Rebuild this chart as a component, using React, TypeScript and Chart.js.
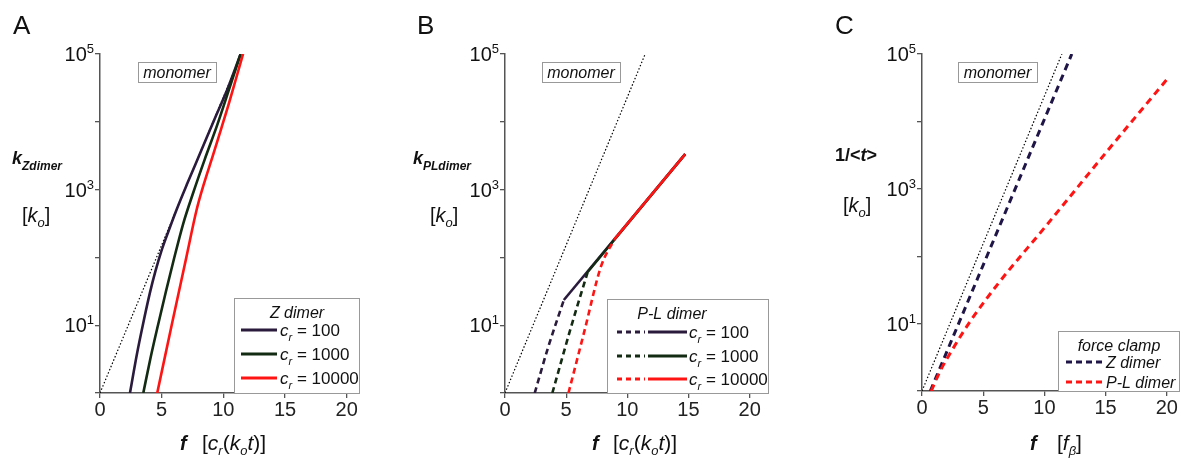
import React, { useEffect, useRef } from 'react';
import { Chart, registerables } from 'chart.js';
Chart.register(...registerables);

const FF = '"Liberation Sans", Arial, Helvetica, sans-serif';

// ---------- Data ----------
// x tick labels (all panels)
const xTicks = [0, 5, 10, 15, 20];
// y decades (log scale) and labelled decades
const yDecades = [1, 10, 100, 1000, 10000, 100000];
const yLabelled = [10, 1000, 100000];

// Panel A: Z dimer
const monoAF = [0, 11.46];
const monoAK = [1, 100000];
const zA100F = [2.43, 3.0, 3.47, 4.05, 4.5, 4.95, 5.5, 6.2, 7.1, 8.15, 9.24, 10.37, 11.4];
const zA100K = [1, 3.8, 10, 30.2, 63.1, 120, 229, 501, 1259, 3548, 10471, 31623, 100000];
const zA1000F = [3.51, 4.1, 4.7, 5.35, 6.0, 6.75, 7.55, 8.5, 9.5, 10.45, 11.4];
const zA1000K = [1, 3.31, 10, 31.6, 95.5, 316, 891, 2818, 8913, 29512, 100000];
const zA10000F = [4.64, 5.81, 7.0, 7.83, 8.45, 9.15, 9.83, 10.5, 11.05, 11.6];
const zA10000K = [1, 10, 100, 500, 1259, 3162, 7943, 19953, 44668, 100000];

// Panel B: P-L dimer
const monoBF = [0, 11.46];
const monoBK = [1, 100000];
const plDash100F = [2.43, 3.54, 4.81];
const plDash100K = [1, 4.8, 23.5];
const plSolid100F = [4.81, 14.73];
const plSolid100K = [23.5, 3340];
const plDash1000F = [3.87, 5.4, 6.76];
const plDash1000K = [1, 9.4, 61];
const plSolid1000F = [6.76, 14.73];
const plSolid1000K = [61, 3340];
const plDash10000F = [5.19, 6.5, 7.84, 8.92];
const plDash10000K = [1, 8.3, 73, 183];
const plSolid10000F = [8.92, 14.73];
const plSolid10000K = [183, 3340];

// Panel C: force clamp
const monoCF = [0, 11.43];
const monoCK = [1, 100000];
const fcZF = [0.68, 12.24];
const fcZK = [1, 100000];
const fcPLF = [0.75, 1.5, 2.5, 4.0, 6.26, 10, 15, 20];
const fcPLK = [1, 2.0, 4.17, 11.2, 40, 263, 3390, 41700];

// ---------- Styles ----------
const PURPLE = '#2a1b3d';
const GREEN = '#132a13';
const RED = '#ff1414';
const NAVY = '#1f1547';
const AXIS = '#555';

const pts = (fs: number[], ks: number[]) => fs.map((f, i) => ({ x: f, y: ks[i] }));

const R = (s: number) => `${s}px ${FF}`;
const I = (s: number) => `italic ${s}px ${FF}`;
const B = (s: number) => `bold ${s}px ${FF}`;
const BI = (s: number) => `italic bold ${s}px ${FF}`;

type Seg = [string, string, number?];
function rich(ctx: CanvasRenderingContext2D, x: number, y: number, segs: Seg[], align: 'left' | 'center' | 'right' = 'left', color = '#111') {
  ctx.save();
  ctx.textBaseline = 'alphabetic';
  ctx.textAlign = 'left';
  ctx.fillStyle = color;
  let w = 0;
  segs.forEach(([t, f]) => { ctx.font = f; w += ctx.measureText(t).width; });
  let cx = align === 'center' ? x - w / 2 : align === 'right' ? x - w : x;
  segs.forEach(([t, f, dy]) => {
    ctx.font = f;
    ctx.fillText(t, cx, y + (dy || 0));
    cx += ctx.measureText(t).width;
  });
  ctx.restore();
}

function box(ctx: CanvasRenderingContext2D, x: number, y: number, w: number, h: number) {
  ctx.save();
  ctx.fillStyle = '#fff';
  ctx.fillRect(x, y, w, h);
  ctx.strokeStyle = '#999';
  ctx.lineWidth = 1;
  ctx.strokeRect(Math.round(x) + 0.5, Math.round(y) + 0.5, w, h);
  ctx.restore();
}

function seg(ctx: CanvasRenderingContext2D, x1: number, x2: number, y: number, color: string, dash: number[], width = 3) {
  ctx.save();
  ctx.strokeStyle = color;
  ctx.lineWidth = width;
  ctx.setLineDash(dash);
  ctx.beginPath();
  ctx.moveTo(x1, y);
  ctx.lineTo(x2, y);
  ctx.stroke();
  ctx.restore();
}

function line(data: { x: number; y: number }[], color: string, width: number, dash: number[] = [], smooth = false) {
  return {
    data,
    borderColor: color,
    backgroundColor: color,
    borderWidth: width,
    borderDash: dash,
    pointRadius: 0,
    fill: false,
    cubicInterpolationMode: smooth ? 'monotone' : 'default',
    tension: smooth ? 0.4 : 0,
  };
}

function yTickLabels(ctx: CanvasRenderingContext2D, chart: any) {
  const ys = chart.scales.y;
  const left = chart.chartArea.left;
  yLabelled.forEach((v) => {
    const y = ys.getPixelForValue(v);
    rich(ctx, left - 6, y + 7, [['10', R(20)], [String(Math.round(Math.log10(v))), R(13), -8]], 'right');
  });
}

interface PanelCfg {
  ox: number;
  width: number;
  left: number;
  right: number;
  top: number;
  bottom: number;
  xMax: number;
  datasets: any[];
  draw: (ctx: CanvasRenderingContext2D, chart: any, ox: number) => void;
}

function makeChart(canvas: HTMLCanvasElement, p: PanelCfg) {
  const gridOpts = { display: true, drawOnChartArea: false, drawTicks: true, tickLength: 5, color: AXIS, lineWidth: 1.3 };
  const borderOpts = { display: true, color: AXIS, width: 1.5 };
  return new Chart(canvas, {
    type: 'line',
    data: { datasets: p.datasets },
    options: {
      animation: false,
      responsive: false,
      devicePixelRatio: 1,
      layout: { padding: { left: 0, top: p.top, right: p.width - p.right, bottom: 0 } },
      plugins: { legend: { display: false }, tooltip: { enabled: false } },
      scales: {
        x: {
          type: 'linear',
          min: 0,
          max: p.xMax,
          afterFit: (s: any) => { s.height = 460 - p.bottom; },
          afterBuildTicks: (s: any) => { s.ticks = xTicks.map((v) => ({ value: v })); },
          ticks: { font: { family: FF, size: 20 }, color: '#222', padding: 0, maxRotation: 0, autoSkip: false },
          grid: gridOpts,
          border: borderOpts,
        },
        y: {
          type: 'logarithmic',
          min: 1,
          max: 100000,
          afterFit: (s: any) => { s.width = p.left; },
          afterBuildTicks: (s: any) => { s.ticks = yDecades.map((v) => ({ value: v })); },
          ticks: { display: false },
          grid: gridOpts,
          border: borderOpts,
        },
      },
    } as any,
    plugins: [
      {
        id: 'annot',
        afterDraw(chart: any) {
          const ctx = chart.ctx as CanvasRenderingContext2D;
          yTickLabels(ctx, chart);
          p.draw(ctx, chart, p.ox);
        },
      },
    ],
  } as any);
}

function monomerBox(ctx: CanvasRenderingContext2D, x: number, w: number) {
  box(ctx, x, 62, w, 20);
  rich(ctx, x + w / 2, 78, [['monomer', I(16)]], 'center');
}

function xTitle(ctx: CanvasRenderingContext2D, fx: number, bx: number) {
  rich(ctx, fx, 450, [['f', BI(20)]]);
  rich(ctx, bx, 450, [
    ['[', R(21)], ['c', I(21)], ['r', I(13), 5], ['(', R(21)], ['k', I(21)], ['o', I(13), 5], ['t', I(21)], [')]', R(21)],
  ]);
}

function koLabel(ctx: CanvasRenderingContext2D, x: number, y: number) {
  rich(ctx, x, y, [['[', R(20)], ['k', I(20)], ['o', I(13), 5], [']', R(20)]]);
}

const drawA = (ctx: CanvasRenderingContext2D, chart: any, ox: number) => {
  rich(ctx, 13 - ox, 34, [['A', R(26)]]);
  rich(ctx, 12 - ox, 164, [['k', BI(18)], ['Zdimer', BI(12), 6]]);
  koLabel(ctx, 22 - ox, 222);
  monomerBox(ctx, 138 - ox, 78);
  box(ctx, 234 - ox, 298, 125, 95);
  rich(ctx, 297 - ox, 318, [['Z dimer', I(16)]], 'center');
  const items: [number, string, string][] = [[330, PURPLE, '100'], [354, GREEN, '1000'], [378, RED, '10000']];
  items.forEach(([y, c, t]) => {
    seg(ctx, 241 - ox, 277 - ox, y, c, []);
    rich(ctx, 280 - ox, y + 6, [['c', I(17)], ['r', I(11), 5], [' = ' + t, R(17)]]);
  });
  xTitle(ctx, 180 - ox, 202 - ox);
};

const drawB = (ctx: CanvasRenderingContext2D, chart: any, ox: number) => {
  rich(ctx, 417 - ox, 34, [['B', R(26)]]);
  rich(ctx, 413 - ox, 164, [['k', BI(18)], ['PLdimer', BI(12), 6]]);
  koLabel(ctx, 430 - ox, 222);
  monomerBox(ctx, 542 - ox, 78);
  box(ctx, 607 - ox, 299, 161, 94);
  rich(ctx, 672 - ox, 319, [['P-L dimer', I(16)]], 'center');
  const items: [number, string, string][] = [[332, PURPLE, '100'], [356, GREEN, '1000'], [379, RED, '10000']];
  items.forEach(([y, c, t]) => {
    seg(ctx, 617 - ox, 645 - ox, y, c, [5, 4]);
    seg(ctx, 648 - ox, 687 - ox, y, c, []);
    rich(ctx, 689 - ox, y + 6, [['c', I(17)], ['r', I(11), 5], [' = ' + t, R(17)]]);
  });
  xTitle(ctx, 592 - ox, 613 - ox);
};

const drawC = (ctx: CanvasRenderingContext2D, chart: any, ox: number) => {
  rich(ctx, 835 - ox, 34, [['C', R(26)]]);
  rich(ctx, 835 - ox, 161, [['1/<', B(18)], ['t', BI(18)], ['>', B(18)]]);
  koLabel(ctx, 843 - ox, 212);
  monomerBox(ctx, 958 - ox, 79);
  box(ctx, 1058 - ox, 331, 121, 60);
  rich(ctx, 1119 - ox, 351, [['force clamp', I(16)]], 'center');
  const items: [number, string, string][] = [[362, NAVY, 'Z dimer'], [382, RED, 'P-L dimer']];
  items.forEach(([y, c, t]) => {
    seg(ctx, 1066 - ox, 1104 - ox, y, c, [6, 4]);
    rich(ctx, 1106 - ox, y + 6, [[t, I(16)]]);
  });
  rich(ctx, 1030 - ox, 450, [['f', BI(20)]]);
  rich(ctx, 1057 - ox, 450, [['[', R(21)], ['f', I(21)], ['β', I(13), 5], [']', R(21)]]);
};

const DOT = [1.5, 2];

export default function App() {
  const refA = useRef<HTMLCanvasElement>(null);
  const refB = useRef<HTMLCanvasElement>(null);
  const refC = useRef<HTMLCanvasElement>(null);

  useEffect(() => {
    document.body.style.margin = '0';
    const charts: Chart[] = [];
    charts.push(
      makeChart(refA.current!, {
        ox: 0, width: 395, left: 100, right: 359, top: 54, bottom: 393, xMax: 21,
        datasets: [
          line(pts(zA10000F, zA10000K), RED, 2.6, [], true),
          line(pts(zA1000F, zA1000K), GREEN, 2.6, [], true),
          line(pts(zA100F, zA100K), PURPLE, 2.6, [], true),
          line(pts(monoAF, monoAK), '#000', 1.2, DOT),
        ],
        draw: drawA,
      })
    );
    charts.push(
      makeChart(refB.current!, {
        ox: 395, width: 395, left: 110, right: 373, top: 54, bottom: 393, xMax: 21.5,
        datasets: [
          line(pts(plSolid10000F, plSolid10000K), RED, 2.6),
          line(pts(plDash10000F, plDash10000K), RED, 2.6, [6, 4], true),
          line(pts(plSolid1000F, plSolid1000K), GREEN, 2.6),
          line(pts(plDash1000F, plDash1000K), GREEN, 2.6, [6, 4], true),
          line(pts(plSolid100F, plSolid100K), PURPLE, 2.6),
          line(pts(plDash100F, plDash100K), PURPLE, 2.6, [6, 4], true),
          line(pts(monoBF, monoBK), '#000', 1.2, DOT),
        ],
        draw: drawB,
      })
    );
    charts.push(
      makeChart(refC.current!, {
        ox: 790, width: 397, left: 132, right: 389, top: 54, bottom: 391, xMax: 21,
        datasets: [
          line(pts(fcPLF, fcPLK), RED, 3, [7, 5], true),
          line(pts(fcZF, fcZK), NAVY, 3, [7, 5]),
          line(pts(monoCF, monoCK), '#000', 1.2, DOT),
        ],
        draw: drawC,
      })
    );
    return () => charts.forEach((c) => c.destroy());
  }, []);

  const cs = (left: number, w: number): React.CSSProperties => ({ position: 'absolute', left, top: 0, width: w, height: 460 });
  return (
    <div style={{ position: 'relative', width: 1187, height: 460, background: '#fff', overflow: 'hidden' }}>
      <canvas ref={refA} width={395} height={460} style={cs(0, 395)} />
      <canvas ref={refB} width={395} height={460} style={cs(395, 395)} />
      <canvas ref={refC} width={397} height={460} style={cs(790, 397)} />
    </div>
  );
}
